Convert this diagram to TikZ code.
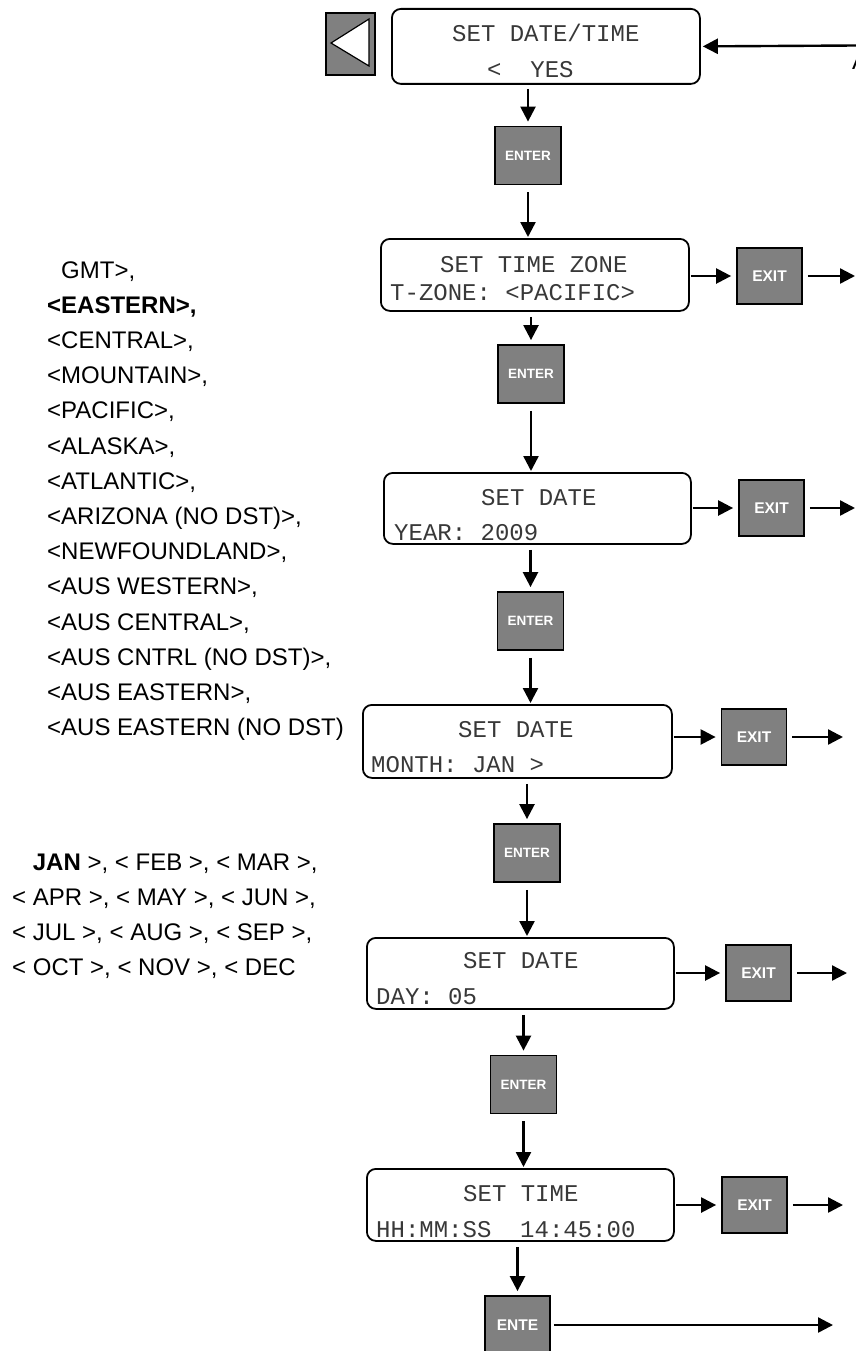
\documentclass[tikz,border=0pt]{standalone}
\usepackage{fontspec}
\setmainfont{Liberation Sans}
\newfontfamily\lcdfont{Liberation Mono}
\usetikzlibrary{arrows.meta}
\definecolor{keygray}{RGB}{128,128,128}
\begin{document}
\begin{tikzpicture}[x=1pt,y=-1pt,
  lcd/.style={draw, line width=1.8pt, rounded corners=9pt, anchor=north west, inner sep=0pt},
  lcdtxt/.style={anchor=base west, inner sep=0pt, font=\lcdfont\fontsize{24}{28}\selectfont, text=black!78},
  keybox/.style={draw, line width=1.8pt, fill=keygray, inner sep=0pt, minimum width=66pt, minimum height=58pt, text=white, font=\bfseries\fontsize{13.5}{15}\selectfont},
  exitbox/.style={keybox, minimum width=65pt, minimum height=56pt, font=\bfseries\fontsize{15.5}{17}\selectfont},
  arr/.style={line width=2.4pt, -{Triangle[length=15pt,width=15pt]}},
  lst/.style={anchor=base west, inner sep=0pt, font=\fontsize{24}{35.2}\selectfont}
]
\useasboundingbox (0,0) rectangle (855,1351);

% back key with triangle
\node[keybox, minimum width=49pt, minimum height=62pt] (back) at (350.5,44) {};
\draw[fill=white, line width=1.2pt] (331,43) -- (369,19) -- (369,66) -- cycle;

% LCD boxes
\node[lcd, minimum width=308pt, minimum height=75pt] (b1) at (391,8) {};
\node[lcd, minimum width=308pt, minimum height=72pt] (b2) at (380,238) {};
\node[lcd, minimum width=307pt, minimum height=71pt] (b3) at (383,472) {};
\node[lcd, minimum width=309pt, minimum height=73pt] (b4) at (362,704) {};
\node[lcd, minimum width=307pt, minimum height=71pt] (b5) at (366,937) {};
\node[lcd, minimum width=307pt, minimum height=72pt] (b6) at (366,1168) {};

% LCD texts
\node[lcdtxt] (t1a) at (452,42) {SET DATE/TIME};
\node[lcdtxt] (t1b) at (487,78) {<\ \ YES};
\node[lcdtxt] (t2a) at (440,272) {SET TIME ZONE};
\node[lcdtxt] (t2b) at (390,300) {T-ZONE: <PACIFIC>};
\node[lcdtxt] (t3a) at (481,505) {SET DATE};
\node[lcdtxt] (t3b) at (394,540) {YEAR: 2009};
\node[lcdtxt] (t4a) at (458,737) {SET DATE};
\node[lcdtxt] (t4b) at (371,772) {MONTH: JAN >};
\node[lcdtxt] (t5a) at (463,968) {SET DATE};
\node[lcdtxt] (t5b) at (376,1004) {DAY: 05};
\node[lcdtxt] (t6a) at (463,1201) {SET TIME};
\node[lcdtxt] (t6b) at (376,1237) {HH:MM:SS\ \ 14:45:00};

% ENTER keys
\node[keybox] (e1) at (528,155.5) {ENTER};
\node[keybox] (e2) at (531,374) {ENTER};
\node[keybox] (e3) at (530.5,621) {ENTER};
\node[keybox] (e4) at (527,853) {ENTER};
\node[keybox] (e5) at (523.5,1084.5) {ENTER};
\node[keybox, minimum width=65pt, font=\bfseries\fontsize{15.5}{17}\selectfont] (e6) at (517.5,1325) {ENTE};

% EXIT keys
\node[exitbox] (x2) at (769.5,276) {EXIT};
\node[exitbox] (x3) at (771.5,508) {EXIT};
\node[exitbox] (x4) at (754,737) {EXIT};
\node[exitbox] (x5) at (758.5,973) {EXIT};
\node[exitbox] (x6) at (754.5,1205) {EXIT};

% free ends
\coordinate (in1) at (856,45.5);
\coordinate (o2) at (855,276);
\coordinate (o3) at (855,508);
\coordinate (o4) at (843,737);
\coordinate (o5) at (847,973);
\coordinate (o6) at (843,1205);
\coordinate (o7) at (833,1325);

% clipped letter at the right edge
\node[anchor=base west, inner sep=0pt, font=\fontsize{24}{28}\selectfont] (cutA) at (852,70) {A};

% arrows
\draw[arr, shorten >=2pt] (in1) -- (b1.east);
\draw[arr, shorten <=4pt, shorten >=4pt] (b1.south -| e1) -- (e1.north);
\draw[arr, shorten <=7pt, shorten >=1pt] (e1.south) -- (e1 |- b2.north);
\draw[arr, shorten <=5pt, shorten >=4pt] (b2.south -| e2) -- (e2.north);
\draw[arr, shorten <=7pt, shorten >=1pt] (e2.south) -- (e2 |- b3.north);
\draw[arr, shorten <=5pt, shorten >=4pt] (b3.south -| e3) -- (e3.north);
\draw[arr, shorten <=7pt, shorten >=1pt] (e3.south) -- (e3 |- b4.north);
\draw[arr, shorten <=5pt, shorten >=4pt] (b4.south -| e4) -- (e4.north);
\draw[arr, shorten <=7pt, shorten >=1pt] (e4.south) -- (e4 |- b5.north);
\draw[arr, shorten <=5pt, shorten >=4pt] (b5.south -| e5) -- (e5.north);
\draw[arr, shorten <=7pt, shorten >=1pt] (e5.south) -- (e5 |- b6.north);
\draw[arr, shorten <=5pt, shorten >=4pt] (b6.south -| e6) -- (e6.north);

\draw[arr, shorten <=1pt, shorten >=5pt] (b2.east |- x2.west) -- (x2.west);
\draw[arr, shorten <=1pt, shorten >=5pt] (b3.east |- x3.west) -- (x3.west);
\draw[arr, shorten <=1pt, shorten >=5pt] (b4.east |- x4.west) -- (x4.west);
\draw[arr, shorten <=1pt, shorten >=5pt] (b5.east |- x5.west) -- (x5.west);
\draw[arr, shorten <=1pt, shorten >=5pt] (b6.east |- x6.west) -- (x6.west);

\draw[arr, shorten <=5pt] (x2.east) -- (o2);
\draw[arr, shorten <=5pt] (x3.east) -- (o3);
\draw[arr, shorten <=5pt] (x4.east) -- (o4);
\draw[arr, shorten <=5pt] (x5.east) -- (o5);
\draw[arr, shorten <=5pt] (x6.east) -- (o6);
\draw[arr, shorten <=3pt] (e6.east) -- (o7);

% time zone list
\node[lst] (zones) at (47,278) {\begin{tabular}[t]{@{}l@{}}
\phantom{<}GMT>,\\
\textbf{<EASTERN>,}\\
<CENTRAL>,\\
<MOUNTAIN>,\\
<PACIFIC>,\\
<ALASKA>,\\
<ATLANTIC>,\\
<ARIZONA (NO DST)>,\\
<NEWFOUNDLAND>,\\
<AUS WESTERN>,\\
<AUS CENTRAL>,\\
<AUS CNTRL (NO DST)>,\\
<AUS EASTERN>,\\
<AUS EASTERN (NO DST)
\end{tabular}};

% month list
\node[lst] (months) at (12,870) {\begin{tabular}[t]{@{}l@{}}
\phantom{<} \textbf{JAN} >, < FEB >, < MAR >,\\
< APR >, < MAY >, < JUN >,\\
< JUL >, < AUG >, < SEP >,\\
< OCT >, < NOV >, < DEC
\end{tabular}};
\end{tikzpicture}
\end{document}
